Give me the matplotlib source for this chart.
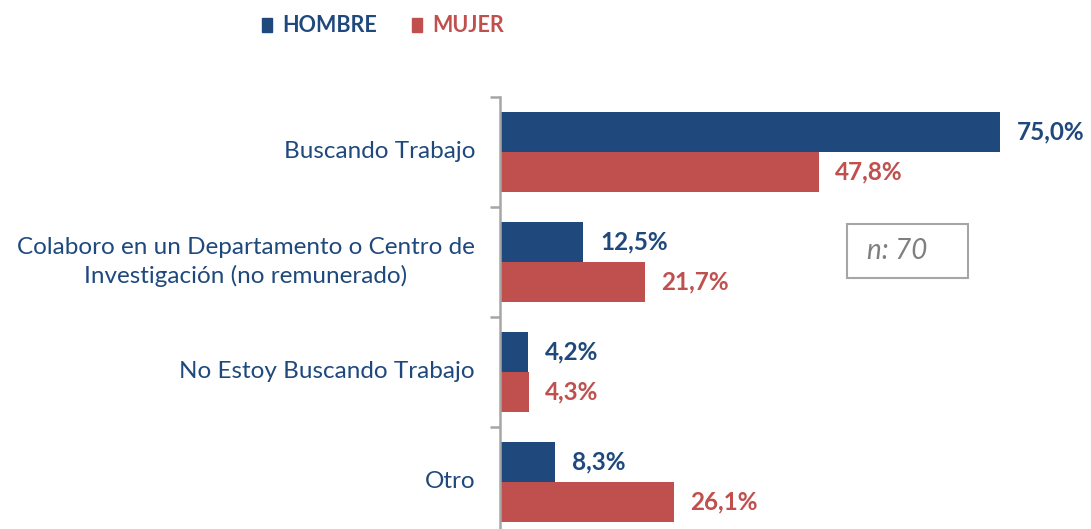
import matplotlib.pyplot as plt
from matplotlib.patches import Rectangle

plt.rcParams['font.family'] = ['Lato', 'DejaVu Sans']

categories = [
    "Buscando Trabajo",
    "Colaboro en un Departamento o Centro de\nInvestigación (no remunerado)",
    "No Estoy Buscando Trabajo",
    "Otro",
]
hombre = [75.0, 12.5, 4.2, 8.3]
mujer = [47.8, 21.7, 4.3, 26.1]
series_names = ["HOMBRE", "MUJER"]
n_label = "n: 70"

BLUE = "#1F497D"
RED = "#C0504D"
GRAY = "#A6A6A6"

W, H = 1091, 529
fig = plt.figure(figsize=(W / 100, H / 100), dpi=100)

# axes in pixel coords: spine at x=500, categories spaced ~110px starting at y=97
left, right = 500, W
top, bottom = 97, 537
ax = fig.add_axes([left / W, 1 - bottom / H, (right - left) / W, (bottom - top) / H])
px_per_unit = (1000 - 500) / 75.0
ax.set_xlim(0, (right - left) / px_per_unit)
ax.set_ylim(3.5, -0.5)

bh = 40 / 110
ys = list(range(len(categories)))
ax.barh([y - bh / 2 for y in ys], hombre, height=bh, color=BLUE)
ax.barh([y + bh / 2 for y in ys], mujer, height=bh, color=RED)

for y, v in zip(ys, hombre):
    ax.annotate(f"{v:.1f}%".replace(".", ","), (v, y - bh / 2), xytext=(12, 0),
                textcoords="offset points", va="center", ha="left",
                fontsize=17.5, fontweight="bold", color=BLUE, clip_on=False)
for y, v in zip(ys, mujer):
    ax.annotate(f"{v:.1f}%".replace(".", ","), (v, y + bh / 2), xytext=(11.5, 0),
                textcoords="offset points", va="center", ha="left",
                fontsize=17.5, fontweight="bold", color=RED, clip_on=False)

for y, c in zip(ys, categories):
    ax.text(-25 / px_per_unit, y, c, ha="right", va="center",
            fontsize=17.5, color=BLUE, linespacing=1.35, multialignment="center")

for s in ["top", "right", "bottom"]:
    ax.spines[s].set_visible(False)
ax.spines["left"].set_color(GRAY)
ax.spines["left"].set_linewidth(1.8)
ax.set_xticks([])
ax.set_yticks([-0.5, 0.5, 1.5, 2.5, 3.5])
ax.set_yticklabels([])
ax.tick_params(axis="y", length=7, width=1.8, color=GRAY, direction="out")

# legend
for x0, name, col in [(262, series_names[0], BLUE), (412, series_names[1], RED)]:
    fig.patches.append(Rectangle((x0 / W, 1 - 32 / H), 10 / W, 14 / H,
                                 transform=fig.transFigure, color=col))
    fig.text((x0 + 20) / W, 1 - 25 / H, name, ha="left", va="center",
             fontsize=15.5, fontweight="bold", color=col)

# sample size box
fig.patches.append(Rectangle((847 / W, 1 - 278 / H), 121 / W, 54 / H,
                             transform=fig.transFigure, fill=False,
                             edgecolor=GRAY, linewidth=1.5))
fig.text(897 / W, 1 - 251 / H, n_label, ha="center", va="center",
         fontsize=20, style="italic", color="#7F7F7F")

fig.savefig("out.png", dpi=100)
